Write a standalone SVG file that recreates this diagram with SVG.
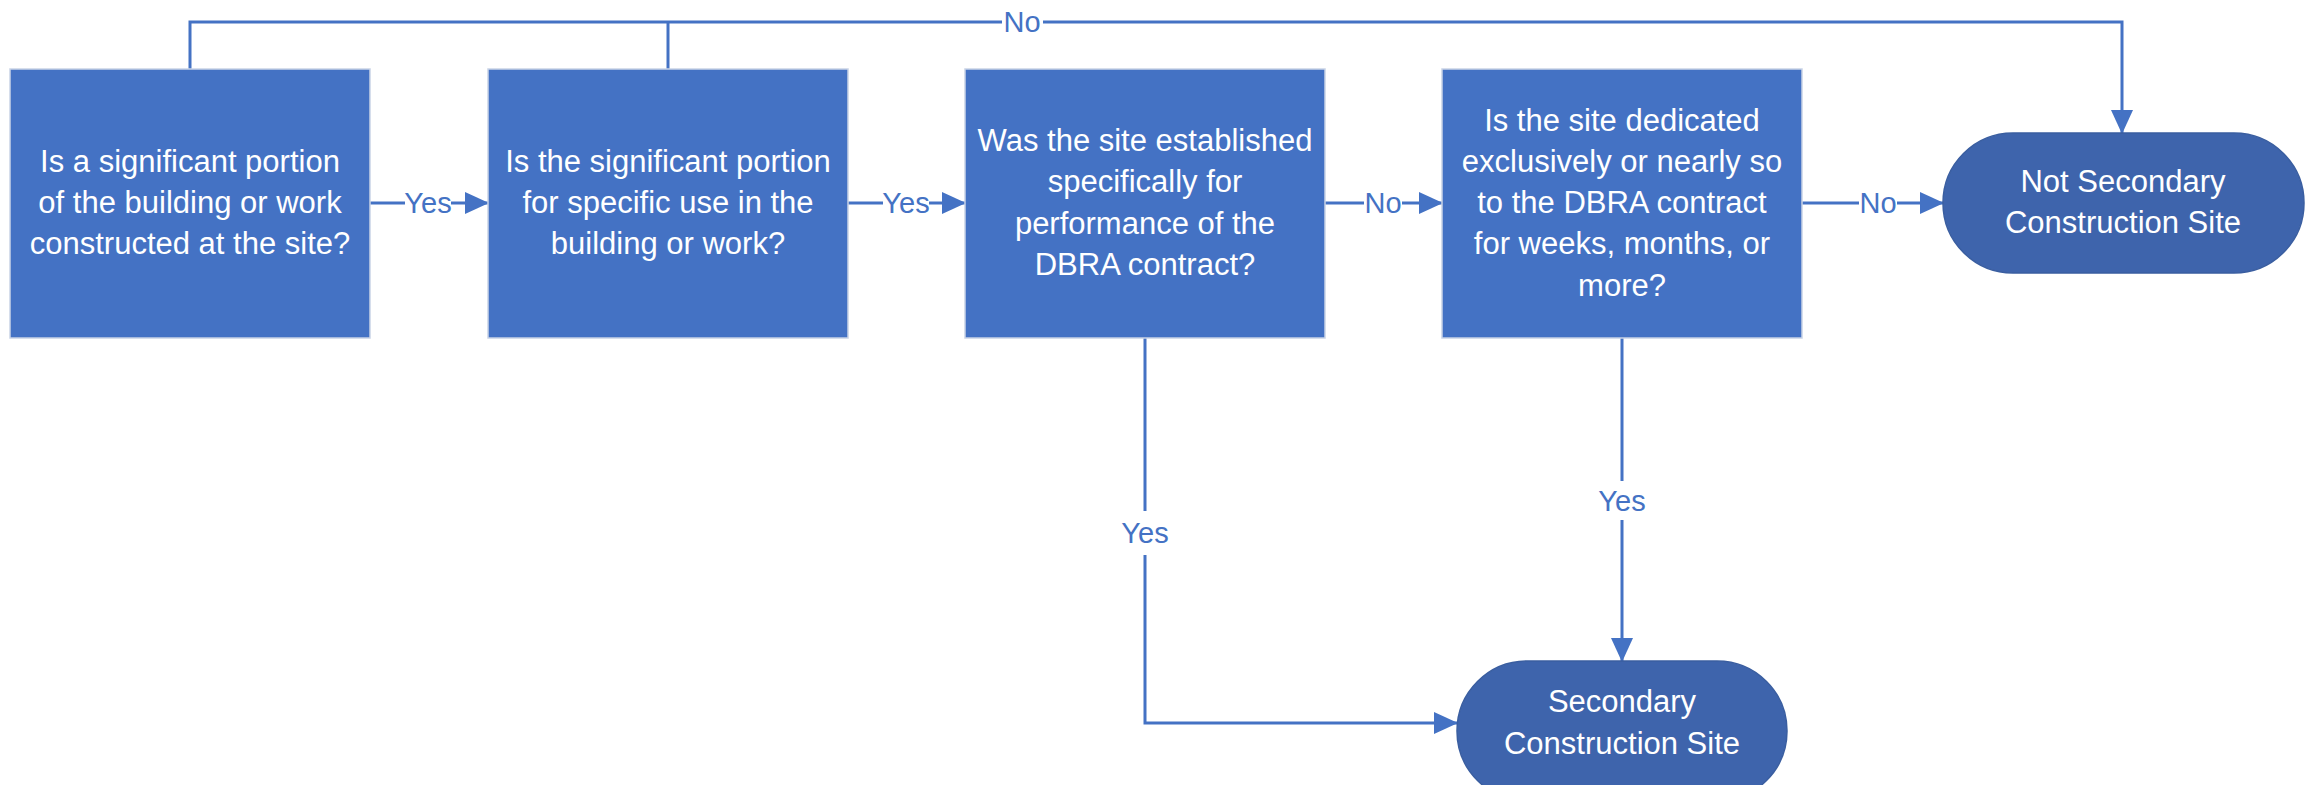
<svg xmlns="http://www.w3.org/2000/svg" width="2310" height="785" viewBox="0 0 2310 785">
<style>
.box{fill:#4472C4;stroke:#c9d3e6;stroke-width:1.5}
.term{fill:#3E64AC;stroke:#3A5EA0;stroke-width:1.5}
.nt{font-family:"Liberation Sans",Arial,sans-serif;font-size:31px;fill:#ffffff;text-anchor:middle}
.ln{fill:none;stroke:#4472C4;stroke-width:3}
.lbl{font-family:"Liberation Sans",Arial,sans-serif;font-size:29px;fill:#4472C4;text-anchor:middle}
.bg{fill:#ffffff}
</style>
<defs>
<marker id="arr" viewBox="0 0 24 22" refX="23" refY="11" markerWidth="24" markerHeight="22" markerUnits="userSpaceOnUse" orient="auto">
<path d="M0,0 L24,11 L0,22 Z" fill="#4472C4"/>
</marker>
</defs>
<rect width="2310" height="785" fill="#ffffff"/>
<g id="connectors">
<path class="ln" d="M190,69 V22 H2122 V133" marker-end="url(#arr)"/>
<path class="ln" d="M668,69 V22"/>
<path class="ln" d="M370,203 H488" marker-end="url(#arr)"/>
<path class="ln" d="M848,203 H965" marker-end="url(#arr)"/>
<path class="ln" d="M1325,203 H1442" marker-end="url(#arr)"/>
<path class="ln" d="M1802,203 H1943" marker-end="url(#arr)"/>
<path class="ln" d="M1145,338 V723 H1457" marker-end="url(#arr)"/>
<path class="ln" d="M1622,338 V661" marker-end="url(#arr)"/>
<rect class="bg" x="1002" y="6" width="41" height="32"/>
<text class="lbl" x="1022" y="32">No</text>
<rect class="bg" x="405" y="188" width="46" height="30"/>
<text class="lbl" x="428" y="213">Yes</text>
<rect class="bg" x="883" y="188" width="46" height="30"/>
<text class="lbl" x="906" y="213">Yes</text>
<rect class="bg" x="1364" y="188" width="38" height="30"/>
<text class="lbl" x="1383" y="213">No</text>
<rect class="bg" x="1859" y="188" width="38" height="30"/>
<text class="lbl" x="1878" y="213">No</text>
<rect class="bg" x="1120" y="511" width="50" height="44"/>
<text class="lbl" x="1145" y="543">Yes</text>
<rect class="bg" x="1597" y="481" width="50" height="39"/>
<text class="lbl" x="1622" y="511">Yes</text>
</g>
<g id="box1">
<rect class="box" x="10" y="69" width="360" height="269"/>
<text class="nt" x="190" y="172">Is a significant portion</text>
<text class="nt" x="190" y="213">of the building or work</text>
<text class="nt" x="190" y="254">constructed at the site?</text>
</g>
<g id="box2">
<rect class="box" x="488" y="69" width="360" height="269"/>
<text class="nt" x="668" y="172">Is the significant portion</text>
<text class="nt" x="668" y="213">for specific use in the</text>
<text class="nt" x="668" y="254">building or work?</text>
</g>
<g id="box3">
<rect class="box" x="965" y="69" width="360" height="269"/>
<text class="nt" x="1145" y="151">Was the site established</text>
<text class="nt" x="1145" y="192">specifically for</text>
<text class="nt" x="1145" y="234">performance of the</text>
<text class="nt" x="1145" y="275">DBRA contract?</text>
</g>
<g id="box4">
<rect class="box" x="1442" y="69" width="360" height="269"/>
<text class="nt" x="1622" y="131">Is the site dedicated</text>
<text class="nt" x="1622" y="172">exclusively or nearly so</text>
<text class="nt" x="1622" y="213">to the DBRA contract</text>
<text class="nt" x="1622" y="254">for weeks, months, or</text>
<text class="nt" x="1622" y="296">more?</text>
</g>
<g id="not-secondary">
<rect class="term" x="1943" y="133" width="361" height="140" rx="70" ry="70"/>
<text class="nt" x="2123" y="192">Not Secondary</text>
<text class="nt" x="2123" y="233">Construction Site</text>
</g>
<g id="secondary">
<rect class="term" x="1457" y="661" width="330" height="140" rx="70" ry="70"/>
<text class="nt" x="1622" y="712">Secondary</text>
<text class="nt" x="1622" y="754">Construction Site</text>
</g>
</svg>
